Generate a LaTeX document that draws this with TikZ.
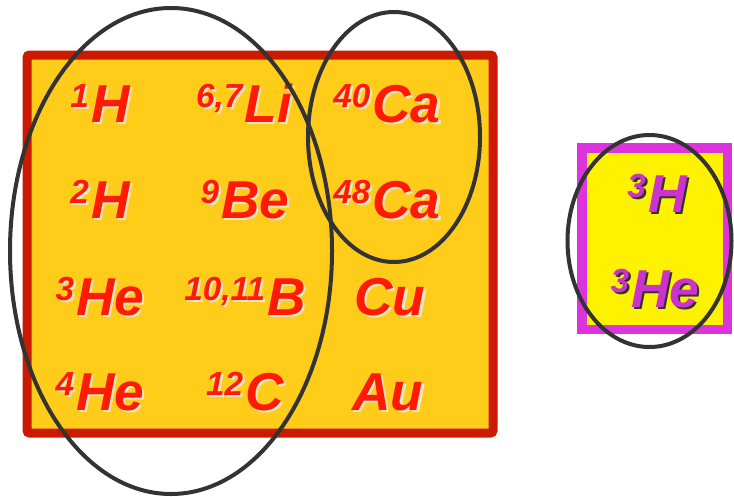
\documentclass[tikz,border=0pt]{standalone}
\usepackage{fontspec}
\setmainfont{Liberation Sans}
\definecolor{boxfill}{HTML}{FFCC1A}
\definecolor{boxedge}{HTML}{CC1A00}
\definecolor{redtext}{HTML}{FF1A00}
\definecolor{redshade}{HTML}{F2E6C8}
\definecolor{pinkedge}{HTML}{DD33DD}
\definecolor{pinktext}{HTML}{CC33CC}
\definecolor{ringgray}{HTML}{333333}
\newcommand{\iso}[2]{\raisebox{11pt}{\fontsize{25}{25}\selectfont #1}\kern1.5pt #2}
\newcommand{\shadowed}[2]{\makebox[0pt][l]{\kern1.6pt\raisebox{-1.6pt}{\color{#1}#2}}#2}
\begin{document}
\begin{tikzpicture}[x=0.75pt,y=-0.75pt,
  isofont/.style={font=\fontsize{40}{40}\selectfont\bfseries\itshape, inner sep=0pt, anchor=base},
  redlabel/.style={isofont, text=redtext},
  pinklabel/.style={isofont, text=pinktext},
  ring/.style={draw=ringgray, line width=3pt}]
\useasboundingbox (0,0) rectangle (734,496);
% main box
\draw[draw=boxedge, fill=boxfill, line width=6.75pt, rounded corners=2pt] (27,55) rectangle (493,433);
% right box
\draw[draw=pinkedge, fill=yellow, line width=7pt] (582,148) rectangle (727.5,329.5);
% red isotopes
\foreach \n/\x/\y/\s/\e in {h1/100/122/1/H, h2/100/218/2/H, he3/100/315/3/He, he4/100/410/4/He,
    li/244/122/{6,7}/Li, be/245/218/9/Be, b/245/315/{10,11}/B, c/245/410/12/C,
    ca40/387/122/40/Ca, ca48/387/218/48/Ca} {
  \node[redlabel] (\n) at (\x,\y) {\shadowed{redshade}{\iso{\s}{\e}}};
}
\foreach \n/\x/\y/\e in {cu/390/315/Cu, au/388/410/Au} {
  \node[redlabel] (\n) at (\x,\y) {\shadowed{redshade}{\e}};
}
% pink isotopes
\foreach \n/\x/\y/\s/\e in {h3/657/212/3/H, he3r/655/307/3/He} {
  \node[pinklabel] (\n) at (\x,\y) {\shadowed{black!80}{\iso{\s}{\e}}};
}
% rings
\draw[ring] (171,251) ellipse [x radius=161, y radius=243];
\draw[ring] (394,137) ellipse [x radius=86, y radius=125];
\draw[ring] (649.5,241) ellipse [x radius=82, y radius=106];
\end{tikzpicture}
\end{document}
